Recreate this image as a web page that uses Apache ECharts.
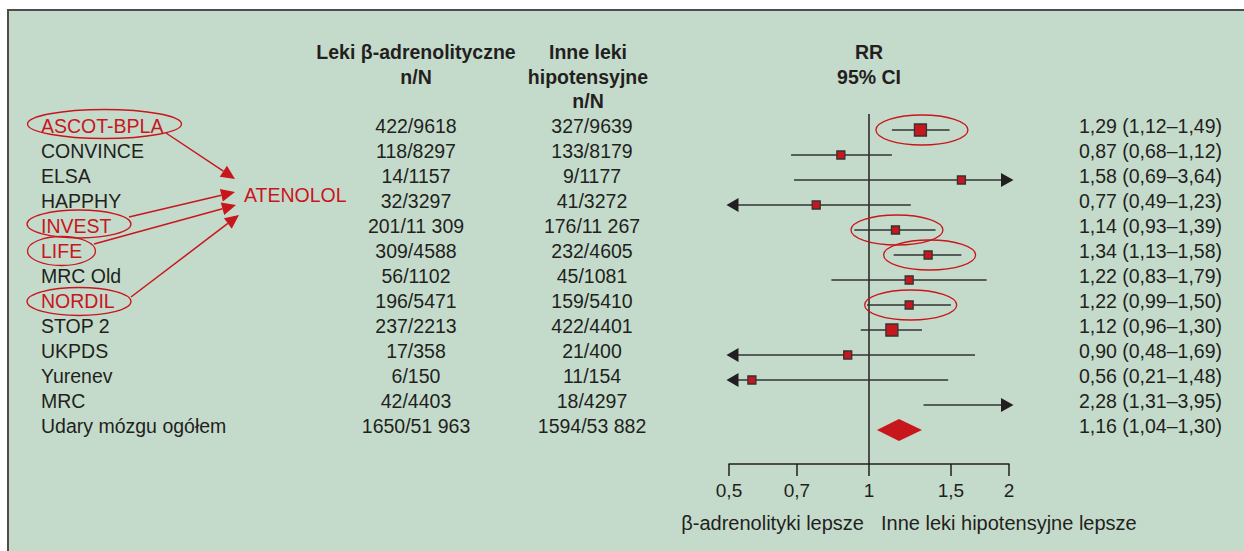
<!DOCTYPE html>
<html><head><meta charset="utf-8">
<script src="https://cdn.jsdelivr.net/npm/echarts@6/dist/echarts.min.js"></script>
<style>html,body{margin:0;padding:0;background:#fff}#c{width:1244px;height:551px}</style>
</head><body><div id="c"></div>
<script>
// ---------- DATA ----------
const studies = ['ASCOT-BPLA','CONVINCE','ELSA','HAPPHY','INVEST','LIFE','MRC Old','NORDIL','STOP 2','UKPDS','Yurenev','MRC','Udary mózgu ogółem'];
const betaBlockers = ['422/9618','118/8297','14/1157','32/3297','201/11 309','309/4588','56/1102','196/5471','237/2213','17/358','6/150','42/4403','1650/51 963'];
const otherDrugs = ['327/9639','133/8179','9/1177','41/3272','176/11 267','232/4605','45/1081','159/5410','422/4401','21/400','11/154','18/4297','1594/53 882'];
const rr     = [1.29,0.87,1.58,0.77,1.14,1.34,1.22,1.22,1.12,0.90,0.56,2.28,1.16];
const ciLow  = [1.12,0.68,0.69,0.49,0.93,1.13,0.83,0.99,0.96,0.48,0.21,1.31,1.04];
const ciHigh = [1.49,1.12,3.64,1.23,1.39,1.58,1.79,1.50,1.30,1.69,1.48,3.95,1.30];
const boxWeight = [1.5,1,1,1,1,1,1,1,1.5,1,1,1,0];
const pooledRow = 12;
const atenololStudies = ['ASCOT-BPLA','INVEST','LIFE','NORDIL'];
const xTicks = [0.5,0.7,1,1.5,2];
const xMin = 0.5, xMax = 2;

// ---------- STYLE ----------
const RED = '#c8161d', INK = '#231f20', LINE = '#333333', BG = '#c4dbcb';
const FONT = '"Liberation Sans", Arial, Helvetica, sans-serif';
const fmt = v => v.toFixed(2).replace('.', ',');
const rrText = rr.map((v,i) => fmt(v) + ' (' + fmt(ciLow[i]) + '–' + fmt(ciHigh[i]) + ')');

const chart = echarts.init(document.getElementById('c'), null, {renderer:'svg'});

function renderForest(params, api) {
  const est = api.value(0), row = api.value(1), lo = api.value(2), hi = api.value(3), w = api.value(4);
  const px = v => api.coord([v, row])[0];
  const y = api.coord([1, row])[1];
  const left = px(xMin), right = px(xMax);
  const children = [];
  if (row === pooledRow) {
    const h = 11;
    children.push({type:'polygon', shape:{points:[[px(lo),y],[px(est),y-h],[px(hi),y],[px(est),y+h]]}, style:{fill:RED}});
    return {type:'group', children};
  }
  const clipL = lo < xMin, clipR = hi > xMax;
  const x1 = clipL ? left + 9 : px(lo);
  const x2 = clipR ? right - 8 : px(hi);
  children.push({type:'line', shape:{x1, y1:y, x2, y2:y}, style:{stroke:LINE, lineWidth:1.5}});
  const ah = 7;
  if (clipL) children.push({type:'polygon', shape:{points:[[left-2.5,y],[left+9.5,y-ah],[left+9.5,y+ah]]}, style:{fill:INK}});
  if (clipR) children.push({type:'polygon', shape:{points:[[right+4.5,y],[right-8,y-ah],[right-8,y+ah]]}, style:{fill:INK}});
  if (est >= xMin && est <= xMax) {
    const s = 8 * w;
    const cx = px(est);
    children.push({type:'rect', shape:{x:cx-s/2, y:y-s/2, width:s, height:s}, style:{fill:RED, stroke:LINE, lineWidth:1.3}});
    if (atenololStudies.indexOf(studies[row]) >= 0) {
      children.push({type:'ellipse', shape:{cx:cx+1.5, cy:y, rx:46, ry:15}, style:{fill:'none', stroke:RED, lineWidth:1.3}});
    }
  }
  return {type:'group', children};
}

// text columns
const columns = [
  {x:41,   align:'left',   values:studies},
  {x:416,  align:'center', values:betaBlockers},
  {x:592,  align:'center', values:otherDrugs},
  {x:1222, align:'right',  values:rrText}
];
function renderText(params, api) {
  const row = api.value(0);
  const children = columns.map(c => {
    const p = api.coord([c.x, row]);
    const isAten = c.x === 41 && atenololStudies.indexOf(studies[row]) >= 0;
    return {type:'text', x:p[0], y:p[1], style:{text:c.values[row], align:c.align, verticalAlign:'middle',
      font:'19.5px ' + FONT, fill: isAten ? RED : INK}};
  });
  return {type:'group', children};
}

function arrow(x1,y1,x2,y2){
  const a = Math.atan2(y2-y1, x2-x1), L = 14, W = 6.5;
  const c = Math.cos(a), s = Math.sin(a);
  const bx = x2 - L*c, by = y2 - L*s;
  return [
    {type:'line', shape:{x1, y1, x2:bx, y2:by}, style:{stroke:RED, lineWidth:1.5}},
    {type:'polygon', shape:{points:[[x2,y2],[bx + W*s, by - W*c],[bx - W*s, by + W*c]]}, style:{fill:RED}}
  ];
}
const ell = (cx,cy,rx,ry) => ({type:'ellipse', shape:{cx,cy,rx,ry}, style:{fill:'none', stroke:RED, lineWidth:1.3}});
const txt = (x,y,t,align,opts) => ({type:'text', x, y, style:Object.assign({text:t, align:align||'center', verticalAlign:'middle', font:'19.5px ' + FONT, fill:INK}, opts||{})});
const bold = '700 19.5px ' + FONT;

const graphics = [
  {type:'rect', shape:{x:0,y:0,width:1244,height:9}, style:{fill:'#fff'}},
  {type:'rect', shape:{x:0,y:0,width:7,height:551}, style:{fill:'#fff'}},
  {type:'line', shape:{x1:7,y1:10,x2:1244,y2:10}, style:{stroke:'#4d4d4d', lineWidth:2}},
  {type:'line', shape:{x1:8,y1:9,x2:8,y2:551}, style:{stroke:'#4d4d4d', lineWidth:2}},
  txt(416,52,'Leki β-adrenolityczne','center',{font:bold}),
  txt(416,77,'n/N','center',{font:bold}),
  txt(588,52,'Inne leki','center',{font:bold}),
  txt(588,77,'hipotensyjne','center',{font:bold}),
  txt(588,101,'n/N','center',{font:bold}),
  txt(869,52,'RR','center',{font:bold}),
  txt(869,77,'95% CI','center',{font:bold}),
  txt(864,523,'β-adrenolityki lepsze','right',{font:'20px ' + FONT}),
  txt(881,523,'Inne leki hipotensyjne lepsze','left',{font:'20px ' + FONT}),
  txt(244,195,'ATENOLOL','left',{font:'19.5px ' + FONT, fill:RED}),
  ell(104.5,124,77,14.5), ell(79,224,52,14), ell(61.5,251,34,14.5), ell(79,301.5,52,14)
].concat(arrow(166,133,235,179), arrow(129,217,235,192), arrow(94,244,236,205), arrow(131,297,239,215));

const forestData = rr.map((v,i) => [v, i, ciLow[i], ciHigh[i], boxWeight[i]]);
const rowsData = studies.map((s,i) => [i]);
const yMin0 = -0.64, yMax0 = 13.36;

chart.setOption({
  backgroundColor: BG,
  animation: false,
  textStyle: {fontFamily: FONT},
  grid: [
    {left:729, right:235, top:114, bottom:87},
    {left:0, right:0, top:0, bottom:0}
  ],
  xAxis: [
    {type:'log', gridIndex:0, position:'bottom', min:xMin, max:xMax, logBase:10,
     axisLine:{show:true, onZero:false, lineStyle:{color:INK, width:1.5}},
     axisTick:{show:true, customValues:xTicks, length:12, lineStyle:{color:INK, width:1.5}},
     axisLabel:{show:true, customValues:xTicks, margin:17, fontSize:19, color:INK, fontFamily:FONT,
       formatter: v => String(+(+v).toFixed(2)).replace('.', ',')},
     splitLine:{show:false}, minorTick:{show:false}},
    {type:'value', gridIndex:1, min:0, max:1244, show:false}
  ],
  yAxis: [
    {type:'value', gridIndex:0, inverse:true, min:yMin0, max:yMax0, show:false},
    {type:'value', gridIndex:1, inverse:true, min:-126.3/25, max:(551-126.3)/25, show:false}
  ],
  graphic: {elements: graphics},
  series: [
    {type:'line', xAxisIndex:0, yAxisIndex:0, data:[[1,yMin0],[1,yMax0]], showSymbol:false, silent:true,
     lineStyle:{color:INK, width:1.5}, z:1},
    {type:'custom', xAxisIndex:0, yAxisIndex:0, data:forestData, renderItem:renderForest, clip:false,
     encode:{x:0, y:1}, silent:true, z:3},
    {type:'custom', xAxisIndex:1, yAxisIndex:1, data:rowsData, renderItem:renderText, clip:false,
     encode:{y:0}, silent:true, z:3}
  ]
});
</script></body></html>
